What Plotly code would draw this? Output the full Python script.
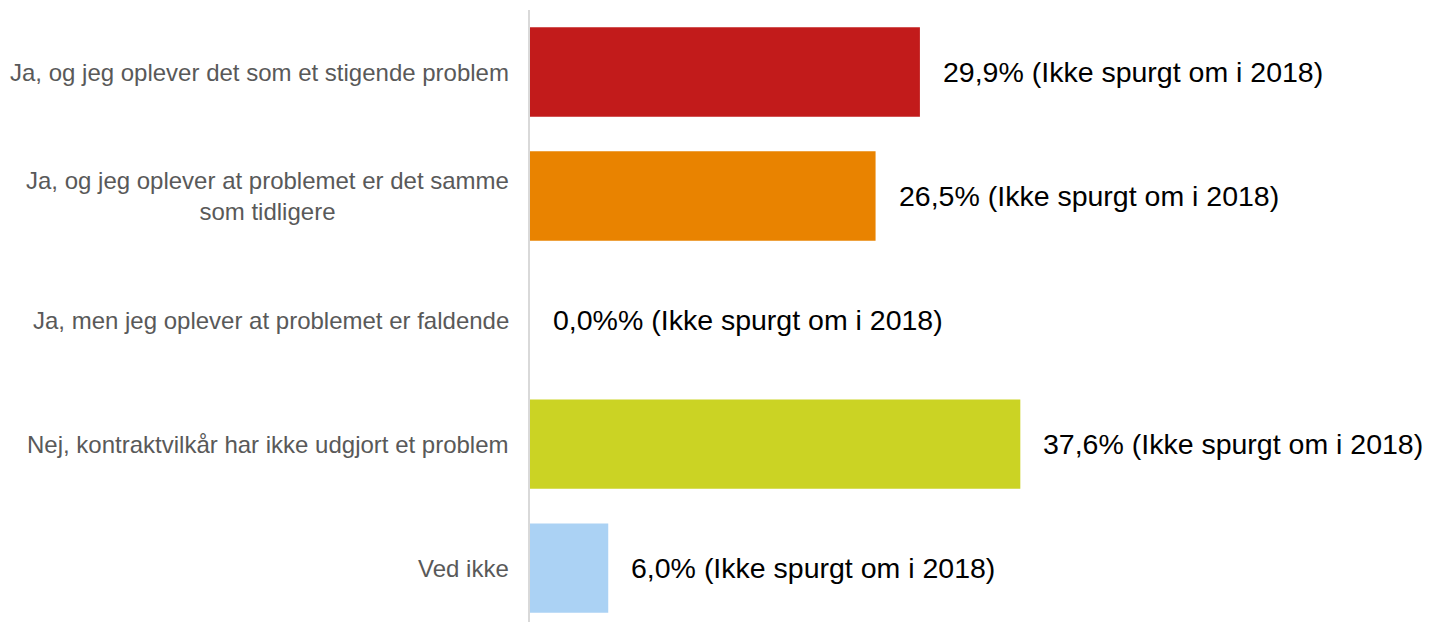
import plotly.graph_objs as go

categories = [
    'Ja, og jeg oplever det som et stigende problem',
    'Ja, og jeg oplever at problemet er det samme<br>som tidligere',
    'Ja, men jeg oplever at problemet er faldende',
    'Nej, kontraktvilkår har ikke udgjort et problem',
    'Ved ikke',
]
values = [29.9, 26.5, 0.0, 37.6, 6.0]
value_labels = [
    '29,9% (Ikke spurgt om i 2018)',
    '26,5% (Ikke spurgt om i 2018)',
    '0,0%% (Ikke spurgt om i 2018)',
    '37,6% (Ikke spurgt om i 2018)',
    '6,0% (Ikke spurgt om i 2018)',
]
colors = ['#C21B1B', '#E98300', '#FFFFFF', '#CBD324', '#ABD2F4']

FONT = 'Arial, Liberation Sans, sans-serif'

fig = go.Figure()

fig.add_trace(go.Bar(
    x=values,
    y=categories,
    orientation='h',
    marker=dict(color=colors, line=dict(width=0)),
    hoverinfo='skip',
))

# value labels to the right of each bar
for cat, val, lab in zip(categories, values, value_labels):
    fig.add_annotation(
        x=val, y=cat, text=lab,
        xanchor='left', yanchor='middle',
        xshift=21, showarrow=False,
        font=dict(family=FONT, size=28.5, color='black'),
    )

# category labels, centred multi-line like the original
for cat in categories:
    fig.add_annotation(
        xref='paper', x=0, y=cat, text=cat,
        xanchor='right', yanchor='middle', align='center',
        xshift=-19, showarrow=False,
        font=dict(family=FONT, size=24, color='#595959'),
    )

# page body has an 8px margin, so the figure is sized to fit the window
fig.update_layout(
    width=1427,
    height=614,
    margin=dict(l=522, r=0, t=2, b=0),
    plot_bgcolor='white',
    paper_bgcolor='white',
    bargap=0.28,
    showlegend=False,
    xaxis=dict(
        range=[0, 69.4],
        showgrid=False,
        zeroline=False,
        showticklabels=False,
        showline=False,
    ),
    yaxis=dict(
        type='category',
        range=[4.435, -0.5],
        showgrid=False,
        zeroline=False,
        showticklabels=False,
        showline=True,
        linecolor='#D9D9D9',
        linewidth=2,
    ),
)

fig.write_html('out.html')
